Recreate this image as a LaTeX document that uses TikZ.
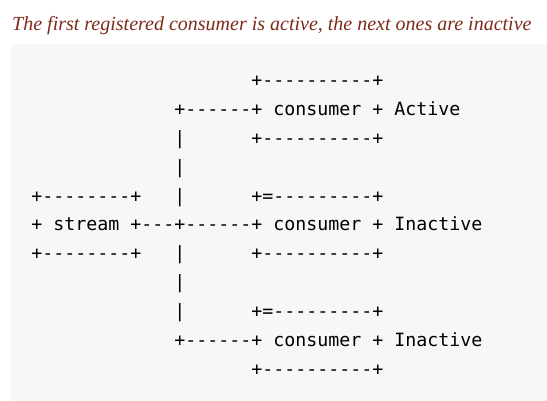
\documentclass[tikz,border=0pt]{standalone}
\usepackage{fontspec}
\setmainfont{Liberation Serif}
\setmonofont{DejaVu Sans Mono}
\definecolor{capred}{HTML}{7D2A1A}
\definecolor{codebg}{HTML}{F7F7F7}
\begin{document}
\begin{tikzpicture}[x=1pt,y=-1pt,
  ascii/.style={anchor=base west, inner sep=0pt, font=\ttfamily\fontsize{18.27}{20}\selectfont, text=black},
  captext/.style={anchor=base west, inner sep=0pt, font=\itshape\fontsize{20}{24}\selectfont, text=capred}]
\useasboundingbox (0,0) rectangle (547,401);
\clip (0,0) rectangle (547,401);
\fill[codebg, rounded corners=3pt] (11,44) rectangle (560,420);
\node[captext] (cap) at (12,31) {The first registered consumer is active, the next ones are inactive};
% line 1
\node[ascii] (l1a) at ({31.2+20*11},86.35) {+----------+};
% line 2
\node[ascii] (l2a) at ({31.2+13*11},115.28) {+------+ consumer + Active};
% line 3
\node[ascii] (l3a) at ({31.2+13*11},144.21) {|};
\node[ascii] (l3b) at ({31.2+20*11},144.21) {+----------+};
% line 4
\node[ascii] (l4a) at ({31.2+13*11},173.14) {|};
% line 5
\node[ascii] (l5a) at ({31.2},202.07) {+--------+};
\node[ascii] (l5b) at ({31.2+13*11},202.07) {|};
\node[ascii] (l5c) at ({31.2+20*11},202.07) {+=---------+};
% line 6
\node[ascii] (l6a) at ({31.2},231) {+ stream +---+------+ consumer + Inactive};
% line 7
\node[ascii] (l7a) at ({31.2},259.93) {+--------+};
\node[ascii] (l7b) at ({31.2+13*11},259.93) {|};
\node[ascii] (l7c) at ({31.2+20*11},259.93) {+----------+};
% line 8
\node[ascii] (l8a) at ({31.2+13*11},288.86) {|};
% line 9
\node[ascii] (l9a) at ({31.2+13*11},317.79) {|};
\node[ascii] (l9b) at ({31.2+20*11},317.79) {+=---------+};
% line 10
\node[ascii] (l10a) at ({31.2+13*11},346.72) {+------+ consumer + Inactive};
% line 11
\node[ascii] (l11a) at ({31.2+20*11},375.65) {+----------+};
\end{tikzpicture}
\end{document}
